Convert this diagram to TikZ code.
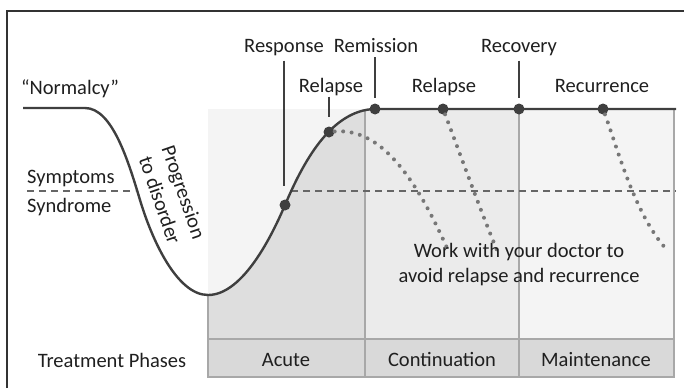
\documentclass[tikz,border=0pt]{standalone}
\usepackage{fontspec}
\setmainfont{Carlito}
\definecolor{ink}{HTML}{3F3F3F}
\definecolor{frame}{HTML}{333333}
\definecolor{rule}{HTML}{A8A8A8}
\definecolor{dotc}{HTML}{777777}
\definecolor{dashc}{HTML}{666666}
\definecolor{pale}{HTML}{F4F4F4}
\definecolor{mid}{HTML}{EBEBEB}
\definecolor{under}{HTML}{DEDEDE}
\definecolor{bar}{HTML}{D9D9D9}

\begin{document}
\begin{tikzpicture}[x=1pt,y=-1pt,
    lbl/.style={anchor=base,inner sep=0pt,text=black!88,
        font=\fontsize{20.5}{25}\selectfont},
    dot/.style={circle,fill=ink,inner sep=0pt,minimum size=11pt},
    tick/.style={draw=ink,line width=1.6pt},
    grid/.style={draw=rule,line width=2pt},
    cut/.style={draw=dashc,line width=2pt,dash pattern=on 7pt off 5pt},
    curve/.style={draw=ink,line width=2.4pt},
    relapse/.style={draw=dotc,line width=4pt,line cap=round,dash pattern=on 0pt off 8.5pt}]
    \useasboundingbox (0,0) rectangle (684,388);
    \draw[frame,line width=1.5pt] (7,388) -- (7,11) -- (684,11);

    % phase columns
    \fill[pale] (208,109) rectangle (365,339);
    \fill[mid] (365,109) rectangle (519,339);
    \fill[pale] (519,109) rectangle (674,339);
    \begin{scope}
        \clip (208,109) rectangle (365,339);
        \fill[under] (208,295) .. controls (240,295) and (268,245) .. (285,205)
            .. controls (302,165) and (330,110) .. (375,109) -- (375,339) -- (208,339) -- cycle;
    \end{scope}
    \draw[grid,fill=bar] (208,339) rectangle (674,377);
    \draw[grid] (208,295) -- (208,377);
    \foreach \x in {365,519,674}
        \draw[grid] (\x,109) -- (\x,377);

    % threshold
    \draw[cut] (27,191) -- (135,191);
    \draw[cut] (291,191) -- (676,191);

    % course of illness
    \draw[curve] (23,108) -- (85,108) .. controls (112,108) and (128,160) .. (140,200)
        .. controls (152,240) and (177,295) .. (208,295)
        .. controls (240,295) and (268,245) .. (285,205)
        .. controls (302,165) and (330,110) .. (375,109) -- (676,109);

    \node[dot] (rsp) at (285,205) {};
    \node[dot] (rl1) at (329,132) {};
    \node[dot] (rem) at (375,109) {};
    \node[dot] (rl2) at (443,109) {};
    \node[dot] (rec) at (519,109) {};
    \node[dot] (rcr) at (603,109) {};

    \draw[relapse] (rl1) .. controls (375,128) and (410,165) .. (447,248);
    \draw[relapse] (rl2) .. controls (455,140) and (480,210) .. (499,255);
    \draw[relapse] (rcr) .. controls (618,150) and (635,215) .. (667,250);

    % labels
    \node[lbl] (normal) at (70,94) {“Normalcy”};
    \node[lbl] (response) at (284,52) {Response};
    \node[lbl] (remission) at (376,52) {Remission};
    \node[lbl] (recovery) at (519,52) {Recovery};
    \node[lbl] (relapseA) at (331,92) {Relapse};
    \node[lbl] (relapseB) at (444,92) {Relapse};
    \node[lbl] (recurrence) at (602,92) {Recurrence};
    \node[lbl,anchor=base west] (symptoms) at (27,183) {Symptoms};
    \node[lbl,anchor=base west] (syndrome) at (27,212) {Syndrome};
    \node[lbl,anchor=center,rotate=-71,align=center] (prog) at (172,196) {Progression\\to disorder};
    \node[lbl,align=center] (advice) at (519,282) {Work with your doctor to\\avoid relapse and recurrence};
    \node[lbl] (phases) at (112,367) {Treatment Phases};
    \node[lbl] (acute) at (286,366) {Acute};
    \node[lbl] (contin) at (442,366) {Continuation};
    \node[lbl] (maint) at (596,366) {Maintenance};

    % ticks
    \draw[tick,shorten <=5pt,shorten >=13pt] (response.south) -- (response.south |- rsp.north);
    \draw[tick,shorten <=5pt,shorten >=5pt] (remission.south -| rem) -- (rem.north);
    \draw[tick,shorten <=5pt,shorten >=5pt] (recovery.south) -- (rec.north);
    \draw[tick,shorten <=1pt,shorten >=9pt] (relapseA.south -| rl1) -- (rl1.north);
\end{tikzpicture}
\end{document}
